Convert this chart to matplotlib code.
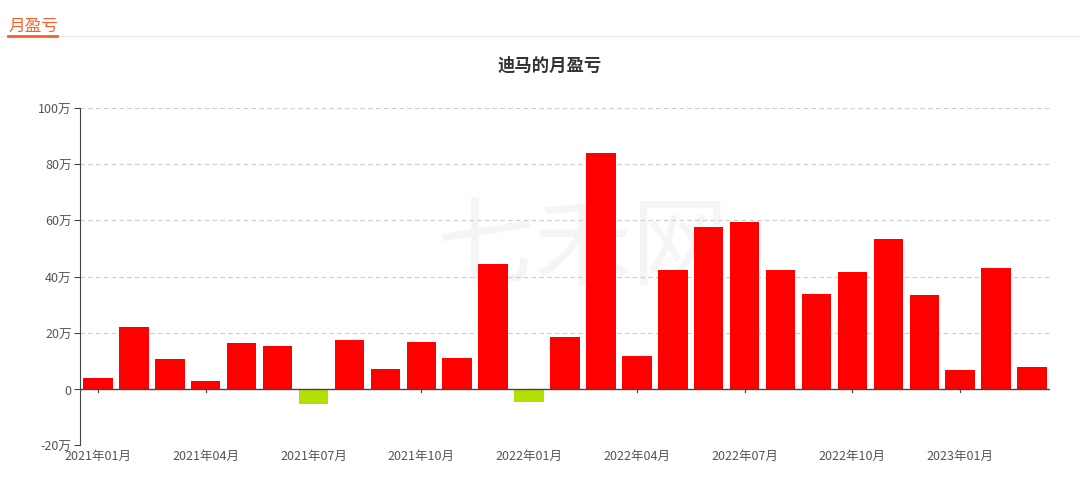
import matplotlib.pyplot as plt
from matplotlib.lines import Line2D

plt.rcParams['font.family'] = ['Noto Sans CJK SC', 'DejaVu Sans']

# monthly profit/loss, unit: 万
months = ["2021年01月", "2021年02月", "2021年03月", "2021年04月", "2021年05月", "2021年06月",
          "2021年07月", "2021年08月", "2021年09月", "2021年10月", "2021年11月", "2021年12月",
          "2022年01月", "2022年02月", "2022年03月", "2022年04月", "2022年05月", "2022年06月",
          "2022年07月", "2022年08月", "2022年09月", "2022年10月", "2022年11月", "2022年12月",
          "2023年01月", "2023年02月", "2023年03月"]
pnl = [4.0, 22.1, 10.7, 2.8, 16.4, 15.3, -5.3, 17.4, 7.1, 16.7, 11.0, 44.5,
       -4.6, 18.5, 84.0, 11.7, 42.3, 57.7, 59.4, 42.3, 33.8, 41.6, 53.4, 33.5,
       6.8, 43.0, 7.8]
y_ticks = [-20, 0, 20, 40, 60, 80, 100]

fig = plt.figure(figsize=(10.8, 4.81), dpi=100)
W, H = 1080, 481
ax = fig.add_axes([80 / W, 1 - 446 / H, 970 / W, 337 / H])

colors = ['#fe0000' if v >= 0 else '#b3e004' for v in pnl]
x = list(range(len(months)))
ax.bar(x, pnl, width=0.82, color=colors, zorder=3)

ax.set_xlim(-0.5, len(months) - 0.5)
ax.set_ylim(-20, 100)
ax.set_yticks(y_ticks)
ax.set_yticklabels([f"{v}万" if v != 0 else "0" for v in y_ticks], fontsize=9, color='#555555')
for v in y_ticks:
    if v != 0:
        ax.axhline(v, color='#cccccc', lw=0.8, ls=(0, (4, 3)), zorder=1)
ax.axhline(0, color='#444444', lw=1, zorder=4)

for s in ['top', 'right', 'bottom']:
    ax.spines[s].set_visible(False)
ax.spines['left'].set_color('#444444')
ax.tick_params(axis='y', length=4, color='#444444', pad=2)

# x labels every 3 months, ticks drawn on zero line
ax.set_xticks(x[::3])
ax.set_xticklabels(months[::3], fontsize=9, color='#555555')
ax.tick_params(axis='x', length=0, pad=3)
for i in x[::3]:
    ax.plot([i, i], [0, -1.3], color='#444444', lw=0.9, zorder=2, clip_on=False)

# faint watermark
ax.text(13.5, 50, "七禾网", fontsize=70, color='#000000', alpha=0.04,
        ha='center', va='center', zorder=0)

fig.text(550 / W, 1 - 66 / H, "迪马的月盈亏", ha='center', va='center',
         fontsize=12.5, fontweight='bold', color='#333333')

# header tab
fig.text(8 / W, 1 - 26 / H, "月盈亏", ha='left', va='center', fontsize=12,
         color='#f5622a', fontweight='medium')
fig.add_artist(Line2D([0, 1], [1 - 37 / H, 1 - 37 / H], color='#eeeeee', lw=1,
                      transform=fig.transFigure))
fig.add_artist(Line2D([8 / W, 57 / W], [1 - 36.5 / H, 1 - 36.5 / H], color='#f5622a', lw=2,
                      transform=fig.transFigure))

fig.savefig("out.png", dpi=100, facecolor='white')
